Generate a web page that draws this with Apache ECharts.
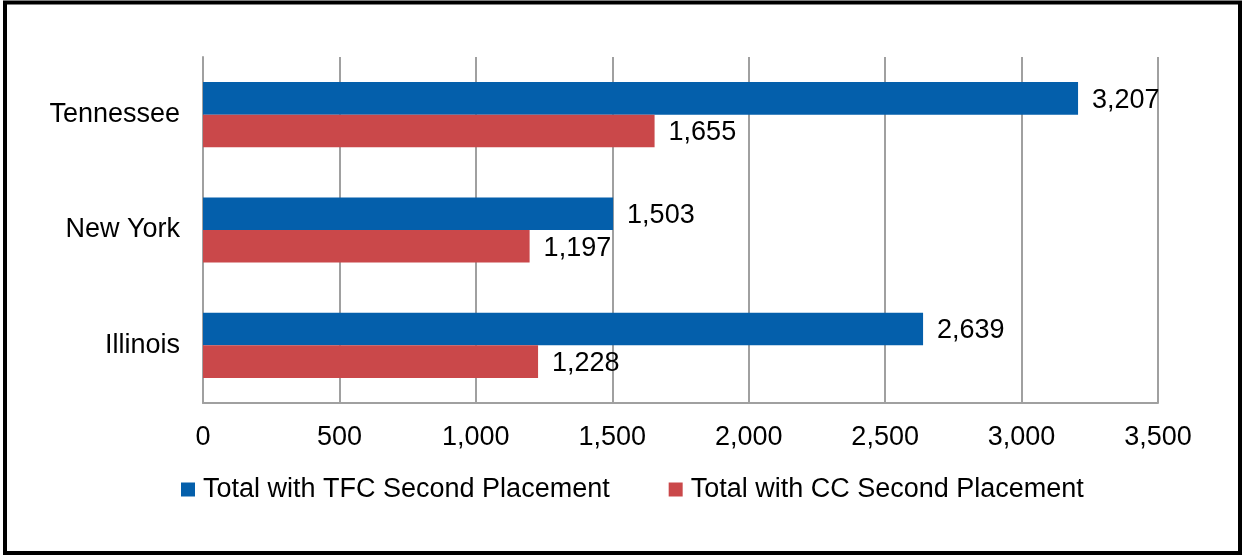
<!DOCTYPE html>
<html>
<head>
<meta charset="utf-8">
<script src="https://cdn.jsdelivr.net/npm/echarts@6/dist/echarts.min.js"></script>
<style>
  html, body { margin: 0; padding: 0; background: #fff; }
  #chart { width: 1242px; height: 555px; }
</style>
</head>
<body>
<div id="chart"></div>
<script>
// States, bottom to top along the category axis
const states = ['Illinois', 'New York', 'Tennessee'];
const tfcSecondPlacement = [2639, 1503, 3207];
const ccSecondPlacement = [1228, 1197, 1655];
const seriesNames = ['Total with TFC Second Placement', 'Total with CC Second Placement'];
const xTicks = { min: 0, max: 3500, step: 500 };

const FONT = "'Liberation Sans', Arial, sans-serif";
const FS = 27;
const fmt = v => Number(v).toLocaleString('en-US');
const gridGray = '#A0A0A0';

const chart = echarts.init(document.getElementById('chart'), null, { renderer: 'canvas' });

const labelStyle = {
  show: true,
  position: 'right',
  distance: 14,
  offset: [0, 2],
  fontSize: FS,
  fontFamily: FONT,
  color: '#000',
  formatter: p => fmt(p.value)
};

chart.setOption({
  animation: false,
  backgroundColor: '#fff',
  textStyle: { fontFamily: FONT },
  grid: { left: 203, right: 84, top: 57, bottom: 152, containLabel: false },
  legend: {
    left: 181,
    top: 476,
    padding: 0,
    itemWidth: 14,
    itemHeight: 14,
    itemGap: 59,
    icon: 'rect',
    textStyle: { fontSize: FS, fontFamily: FONT, color: '#000', padding: [0, 0, 0, 3] },
    data: seriesNames
  },
  xAxis: {
    type: 'value',
    min: xTicks.min,
    max: xTicks.max,
    interval: xTicks.step,
    axisLine: { show: true, lineStyle: { color: gridGray, width: 2 } },
    axisTick: { show: false },
    splitLine: { show: true, lineStyle: { color: gridGray, width: 2 } },
    axisLabel: { fontSize: FS, fontFamily: FONT, color: '#000', margin: 21, formatter: fmt }
  },
  yAxis: {
    type: 'category',
    data: states,
    axisLine: { show: true, lineStyle: { color: gridGray, width: 2 } },
    axisTick: { show: false },
    axisLabel: { fontSize: FS, fontFamily: FONT, color: '#000', margin: 23, padding: [4, 0, 0, 0] }
  },
  series: [
    {
      name: seriesNames[0],
      type: 'bar',
      data: tfcSecondPlacement,
      itemStyle: { color: '#045FAB' },
      barGap: '0%',
      barCategoryGap: '43.5%',
      label: labelStyle
    },
    {
      name: seriesNames[1],
      type: 'bar',
      data: ccSecondPlacement,
      itemStyle: { color: '#CA484A' },
      label: labelStyle
    }
  ],
  graphic: [{
    type: 'rect',
    silent: true,
    z: 100,
    shape: { x: 5, y: 2.5, width: 1235, height: 550.5 },
    style: { fill: 'none', stroke: '#000', lineWidth: 4 }
  }]
});
</script>
</body>
</html>
